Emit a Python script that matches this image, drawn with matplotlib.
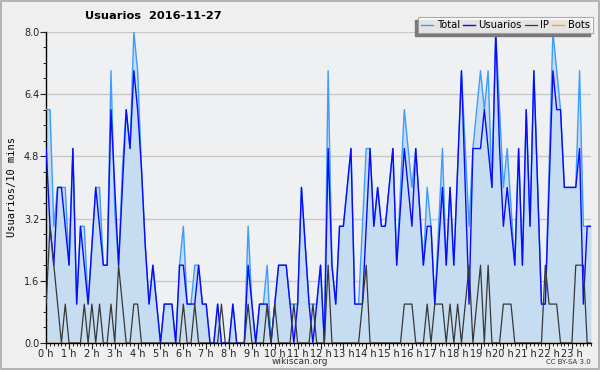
import numpy as np
import matplotlib
matplotlib.use('Agg')
import matplotlib.pyplot as plt
from matplotlib.patches import Rectangle

# valores cada 10 minutos (144 puntos)
total = [6, 6, 3, 4, 4, 4, 2, 5, 1, 3, 3, 1, 2.5, 4, 4, 2, 2, 7, 3.4, 2,
         4.5, 6, 5, 8, 7, 4.5, 2.5, 1, 2, 1, 0, 1, 1, 1, 0, 2, 3, 1, 1, 2,
         2, 1, 1, 0, 0, 1, 0, 0, 0, 1, 0, 0, 0, 3, 1, 0, 1, 1, 2, 0,
         1, 2, 2, 2, 1, 1, 1, 4, 2.5, 1, 1, 1, 2, 0, 7, 2, 1, 3, 3, 4,
         5, 1, 1, 3, 5, 5, 3, 4, 3, 3, 4, 5, 2, 4, 6, 5, 4, 5, 3.5, 2,
         4, 3, 1, 3, 5, 2, 4, 2, 4.5, 7, 5, 3, 5, 6, 7, 6, 7, 4, 8, 6,
         4, 5, 3.5, 2, 5, 2, 6, 3, 7, 4, 1, 1, 4.5, 8, 7, 6, 4, 4, 4, 4,
         7, 3, 3, 3]
usuarios = [5, 3, 2, 4, 4, 3, 2, 5, 1, 3, 2, 1, 2.5, 4, 3, 2, 2, 6, 4, 2,
            4, 6, 5, 7, 6, 4.5, 2.5, 1, 2, 1, 0, 1, 1, 1, 0, 2, 2, 1, 1, 1,
            2, 1, 1, 0, 0, 1, 0, 0, 0, 1, 0, 0, 0, 2, 1, 0, 1, 1, 1, 0,
            1, 2, 2, 2, 1, 0, 1, 4, 2.5, 1, 0, 1, 2, 0, 5, 2, 1, 3, 3, 4,
            5, 1, 1, 1, 3, 5, 3, 4, 3, 3, 4, 5, 2, 3.5, 5, 4, 3, 5, 3.5, 2,
            3, 3, 1, 2.5, 4, 2, 4, 2, 4.5, 7, 4, 1, 5, 5, 5, 6, 5, 4, 8, 5,
            3, 4, 3, 2, 5, 2, 6, 3, 7, 4, 1, 1, 4, 7, 6, 6, 4, 4, 4, 4,
            5, 1, 3, 3]
ip = [1, 3, 2, 1, 0, 1, 0, 0, 0, 0, 1, 0, 1, 0, 1, 0, 0, 1, 0, 2,
      1, 0, 0, 1, 1, 0, 0, 0, 0, 0, 0, 0, 0, 0, 0, 0, 1, 0, 0, 1,
      0, 0, 0, 0, 0, 0, 1, 0, 0, 0, 0, 0, 0, 1, 0, 0, 0, 0, 1, 0,
      1, 0, 0, 0, 0, 1, 0, 0, 0, 0, 1, 0, 0, 0, 2, 0, 0, 0, 0, 0,
      0, 0, 0, 1, 2, 0, 0, 0, 0, 0, 0, 0, 0, 0, 1, 1, 1, 0, 0, 0,
      1, 0, 1, 1, 1, 0, 1, 0, 1, 0, 1, 2, 0, 1, 2, 0, 2, 0, 0, 0,
      1, 1, 1, 0, 0, 0, 0, 0, 0, 0, 0, 2, 1, 1, 1, 0, 0, 0, 0, 2,
      2, 2, 0, 0]
bots = [0] * 144

hour_labels = ['%d h' % h for h in range(24)]
y_ticks = [0.0, 1.6, 3.2, 4.8, 6.4, 8.0]

x = np.arange(len(total))

fig = plt.figure(figsize=(6, 3.7), dpi=100)
fig.patch.set_facecolor('#efefef')
fig.patches.append(Rectangle((0.001, 0.002), 0.997, 0.996, transform=fig.transFigure,
                             fill=False, edgecolor='#a8a8a8', lw=1.2))

ax = fig.add_axes([0.077, 0.073, 0.908, 0.841])
ax.set_facecolor('#eef0f2')

ax.fill_between(x, total, 0, color='#c6dcf0', lw=0, zorder=1)
ax.plot(x, bots, color='#ffa500', lw=1, zorder=2, label='Bots')
ax.plot(x, total, color='#3d9dff', lw=1, zorder=3, label='Total')
ax.plot(x, usuarios, color='#0a0aff', lw=1, zorder=4, label='Usuarios')
ax.plot(x, ip, color='#383838', lw=0.9, zorder=5, label='IP')

ax.set_xlim(0, 143)
ax.set_ylim(0, 8.0)
ax.set_yticks(y_ticks)
ax.set_yticklabels(['%.1f' % v for v in y_ticks])
ax.set_yticks(np.arange(0, 8.01, 0.4), minor=True)
ax.set_xticks(np.arange(0, 144, 6))
ax.set_xticklabels(hour_labels)
ax.set_xticks(np.arange(0, 144, 1), minor=True)
ax.grid(axis='y', color='#c8c8c8', lw=1, zorder=0)
ax.set_axisbelow(True)

for s in ['top', 'right']:
    ax.spines[s].set_visible(False)
ax.spines['left'].set_linewidth(1)
ax.spines['bottom'].set_linewidth(1)
ax.tick_params(axis='both', which='major', labelsize=7, length=4, width=0.8, pad=1, colors='#222222')
ax.tick_params(axis='both', which='minor', length=2.5, width=0.7, colors='#222222')
ax.tick_params(axis='x', which='major', pad=0)

ax.set_ylabel('Usuarios/10 mins', fontsize=7.5, family='DejaVu Sans Mono', labelpad=5)

fig.text(0.142, 0.957, 'Usuarios  2016-11-27', fontsize=8.2, fontweight='bold', va='center')
fig.text(0.5, 0.022, 'wikiscan.org', fontsize=6.5, ha='center', va='center', color='#333333')
fig.text(0.985, 0.022, 'CC BY-SA 3.0', fontsize=5, ha='right', va='center', color='#333333')

h, l = ax.get_legend_handles_labels()
order = [1, 2, 3, 0]
leg = fig.legend([h[i] for i in order], [l[i] for i in order], ncol=4, loc='upper right',
                 bbox_to_anchor=(0.988, 0.954), fontsize=7.2, frameon=True, fancybox=False,
                 handlelength=1.2, handletextpad=0.35, columnspacing=0.3, borderpad=0.3,
                 borderaxespad=0)
leg.get_frame().set_edgecolor('#999999')
leg.get_frame().set_linewidth(0.8)
leg.set_zorder(10)

fig.canvas.draw()
bb = leg.get_window_extent().transformed(fig.transFigure.inverted())
fig.patches.append(Rectangle((bb.x0 - 0.005, bb.y0 - 0.008), bb.width, bb.height,
                             transform=fig.transFigure, color='#7a7a7a', zorder=9))

fig.savefig('out.png', dpi=100, facecolor=fig.get_facecolor())
